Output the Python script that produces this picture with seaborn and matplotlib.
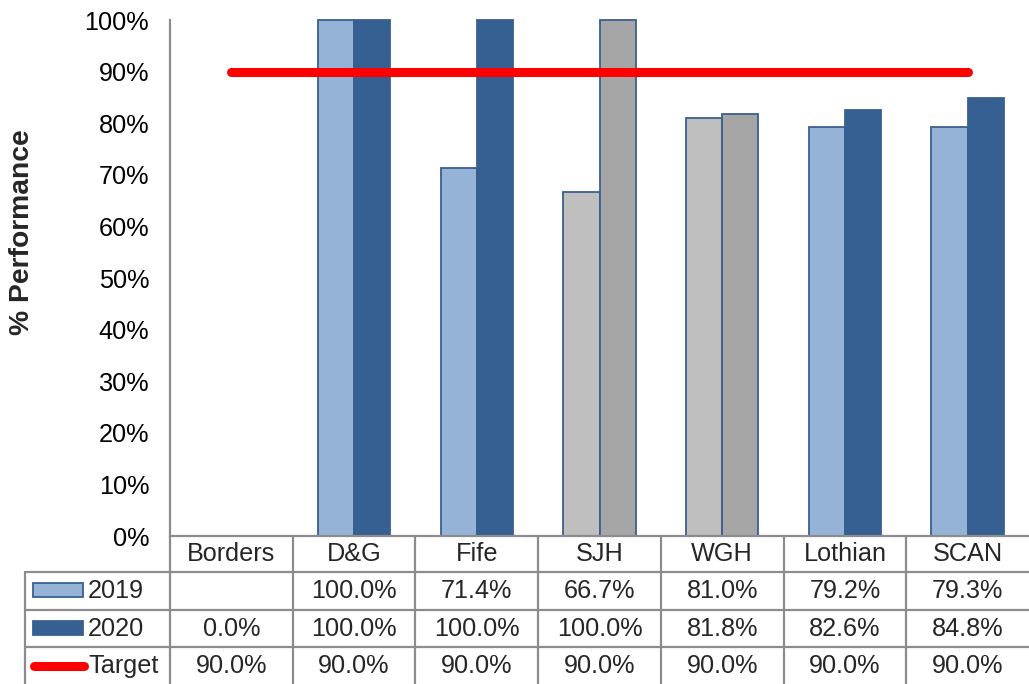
import numpy as np
import pandas as pd
import matplotlib
matplotlib.use("Agg")
import matplotlib.pyplot as plt
import matplotlib.transforms as mtransforms
from matplotlib.lines import Line2D
from matplotlib.patches import Rectangle
import seaborn as sns

# ---- data -------------------------------------------------------------
categories = ["Borders", "D&G", "Fife", "SJH", "WGH", "Lothian", "SCAN"]
perf_2019 = [np.nan, 100.0, 71.4, 66.7, 81.0, 79.2, 79.3]
perf_2020 = [0.0, 100.0, 100.0, 100.0, 81.8, 82.6, 84.8]
target = [90.0, 90.0, 90.0, 90.0, 90.0, 90.0, 90.0]
series_names = ["2019", "2020"]
grey_sites = ["SJH", "WGH"]
y_ticks = [0, 10, 20, 30, 40, 50, 60, 70, 80, 90, 100]

# ---- style ------------------------------------------------------------
sns.set_theme(style="white")
plt.rcParams["font.family"] = ["Liberation Sans", "DejaVu Sans"]

c2019 = "#95B3D7"
c2020 = "#376092"
g2019 = "#BFBFBF"
g2020 = "#A6A6A6"
edge = "#3A5F8F"
grid_grey = "#8C8C8C"
red = "#FF0000"
fs = 18.2

W, H = 1029, 684
fig = plt.figure(figsize=(W / 100, H / 100), dpi=100)
ax = fig.add_axes([170 / W, (H - 536) / H, 1 - 170 / W, (536 - 20) / H])

df = pd.DataFrame({
    "site": categories * 2,
    "year": [series_names[0]] * len(categories) + [series_names[1]] * len(categories),
    "value": perf_2019 + perf_2020,
})

sns.barplot(data=df, x="site", y="value", hue="year", order=categories,
            hue_order=series_names, palette=[c2019, c2020], width=0.59,
            gap=0, edgecolor=edge, linewidth=1.3, legend=False, ax=ax,
            saturation=1)

# grey fill for the two hospital sites
for cont, gcol in zip(ax.containers, [g2019, g2020]):
    for bar in cont:
        idx = int(round(bar.get_x() + bar.get_width() / 2))
        bar.set_clip_on(False)
        if categories[idx] in grey_sites:
            bar.set_facecolor(gcol)

# target line
ax.plot(range(len(categories)), target, color=red, lw=6.5,
        solid_capstyle="round", zorder=5, clip_on=False)

ax.set_xlim(-0.5, len(categories) - 0.5)
ax.set_ylim(0, 100)
ax.set_yticks(y_ticks)
ax.set_yticklabels([f"{t}%" for t in y_ticks], fontsize=fs)
ax.set_xticks([])
ax.set_xlabel("")
ax.set_ylabel("")
ax.tick_params(axis="y", length=0, pad=15, colors="black")
for s in ["top", "right"]:
    ax.spines[s].set_visible(False)
for s in ["left", "bottom"]:
    ax.spines[s].set_color(grid_grey)
    ax.spines[s].set_linewidth(1.6)

fig.text(22 / W, 1 - 232 / H, "% Performance", rotation=90, fontsize=20.3,
         fontweight="bold", ha="center", va="center")

# ---- data table beneath the axis --------------------------------------
tr = mtransforms.blended_transform_factory(ax.transData, fig.transFigure)

def fy(py):
    return 1 - py / H

row_edges = [536, 572, 610, 647, 684]
left_x = -0.5 - (170 - 25) / ((W - 170) / len(categories))

line_kw = dict(color=grid_grey, lw=1.6, transform=tr, clip_on=False)
for py in row_edges[1:4]:
    fig.add_artist(Line2D([left_x, len(categories) - 0.5], [fy(py), fy(py)], **line_kw))
for k in range(len(categories)):
    fig.add_artist(Line2D([k - 0.5, k - 0.5], [fy(536), fy(684)], **line_kw))
fig.add_artist(Line2D([left_x, left_x], [fy(572), fy(684)], **line_kw))

# header row
for k, name in enumerate(categories):
    fig.text(k, fy(554), name, transform=tr, ha="center", va="center", fontsize=fs)

rows = [perf_2019, perf_2020, target]
row_centres = [591, 628.5, 666]
for vals, pc in zip(rows, row_centres):
    for k, v in enumerate(vals):
        txt = "" if np.isnan(v) else f"{v:.1f}%"
        fig.text(k, fy(pc), txt, transform=tr, ha="center", va="center", fontsize=fs)

# row labels with legend keys
pix = fig.transFigure
fig.add_artist(Rectangle((33 / W, fy(597)), 50 / W, 14 / H, facecolor=c2019,
                         edgecolor=edge, lw=1.3, transform=pix))
fig.add_artist(Rectangle((33 / W, fy(635)), 50 / W, 14 / H, facecolor=c2020,
                         edgecolor=edge, lw=1.3, transform=pix))
fig.add_artist(Line2D([34 / W, 84 / W], [fy(666), fy(666)], color=red, lw=6.5,
                      solid_capstyle="round", transform=pix))
for label, pc in zip(series_names + ["Target"], row_centres):
    fig.text(88 / W, fy(pc), label, ha="left", va="center", fontsize=fs)

fig.savefig("out.png", dpi=100)
